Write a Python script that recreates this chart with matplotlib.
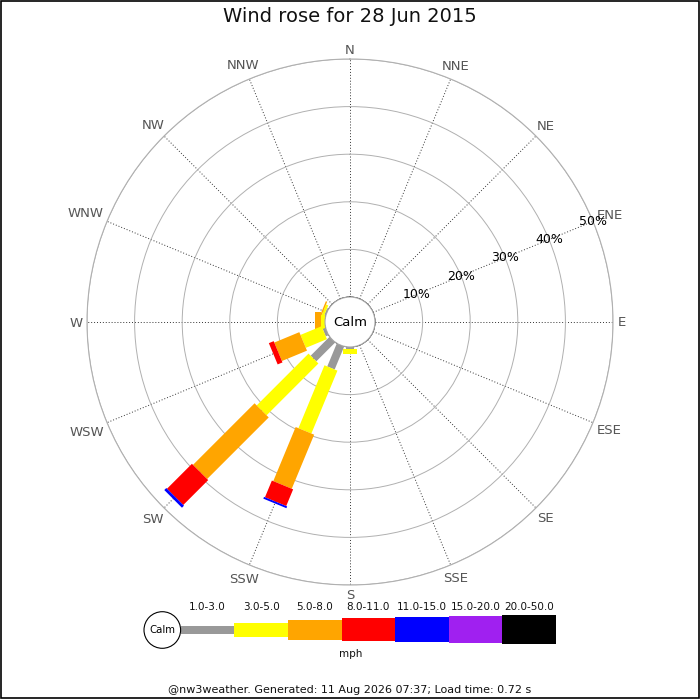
import numpy as np
import matplotlib
matplotlib.use("Agg")
import matplotlib.pyplot as plt
from matplotlib.patches import Circle, Rectangle

# wind rose data, % of day per direction and speed class
directions = ["N", "NNE", "NE", "ENE", "E", "ESE", "SE", "SSE",
              "S", "SSW", "SW", "WSW", "W", "WNW", "NW", "NNW"]
speed_classes = ["1.0-3.0", "3.0-5.0", "5.0-8.0", "8.0-11.0",
                 "11.0-15.0", "15.0-20.0", "20.0-50.0"]
spd_1_3 = [0, 0, 0, 0, 0, 0, 0, 0, 0.5, 5.2, 5.6, 0.6, 0, 0.3, 0, 0]
spd_3_5 = [0, 0, 0, 0, 0, 0, 0, 0, 1.0, 14.3, 15.4, 4.8, 0.9, 0.5, 0, 0]
spd_5_8 = [0, 0, 0, 0, 0, 0, 0, 0, 0, 12.3, 18.3, 5.7, 1.2, 0.3, 0, 0]
spd_8_11 = [0, 0, 0, 0, 0, 0, 0, 0, 0, 3.8, 7.4, 1.1, 0, 0, 0, 0]
spd_11_15 = [0, 0, 0, 0, 0, 0, 0, 0, 0, 0.4, 0.6, 0, 0, 0, 0, 0]
spd_15_20 = [0] * 16
spd_20_50 = [0] * 16
ring_pcts = [10, 20, 30, 40, 50]

colors = ["#999999", "#ffff00", "#ffa500", "#ff0000",
          "#0000ff", "#a020f0", "#000000"]
bar_px = [8, 14, 20, 23, 25, 27, 29]   # bar thickness in pixels

series = [spd_1_3, spd_3_5, spd_5_8, spd_8_11, spd_11_15, spd_15_20, spd_20_50]

DPI = 100
fig = plt.figure(figsize=(7, 7), dpi=DPI)
renderer = fig.canvas.get_renderer()

# overlay axes in pixel units for legend, title, footer, compass labels
ov = fig.add_axes([0, 0, 1, 1])
ov.set_xlim(0, 700)
ov.set_ylim(700, 0)
ov.axis("off")

# polar rose: centre (350, 322) px, calm radius 25 px, 50% ring at 263 px
cx, cy, r_out, r_calm = 350, 322, 263, 25
px_per_pct = (r_out - r_calm) / 50.0
side = 2 * r_out
ax = fig.add_axes([(cx - r_out) / 700, (700 - cy - r_out) / 700,
                   side / 700, side / 700], projection="polar")
ax.set_theta_zero_location("N")
ax.set_theta_direction(-1)
ax.set_rorigin(-r_calm / px_per_pct)
ax.set_rlim(0, 50)
ax.set_axisbelow(True)

angles = np.arange(16) * 22.5
theta = np.deg2rad(angles)
ax.set_thetagrids(angles, labels=[""] * 16)
ax.set_rticks(ring_pcts)
ax.set_yticklabels([])
ax.xaxis.grid(True, color="#333333", linestyle=(0, (1, 2)), linewidth=0.7)
ax.yaxis.grid(True, color="#b0b0b0", linestyle="-", linewidth=0.7)
ax.spines["polar"].set_color("#b0b0b0")
ax.spines["polar"].set_linewidth(0.8)
for sp in ("inner", "start", "end"):
    if sp in ax.spines:
        ax.spines[sp].set_visible(False)

# compass labels just outside the outer ring, pushed out by their own size
lab_fs = 9.5
cap_h = 0.73 * lab_fs * DPI / 72
for a, name in zip(theta, directions):
    s, c = np.sin(a), np.cos(a)
    t = ov.text(0, 0, name, ha="center", va="center", fontsize=lab_fs,
                color="#555555")
    w = t.get_window_extent(renderer).width
    r = r_out + 4.5 + abs(s) * w / 2 + abs(c) * cap_h / 2
    t.set_position((cx + r * s, cy - r * c + 1))

# stacked bars as thick butt-capped radial lines (constant pixel width)
for i in reversed(range(16)):
    cum = 0.0
    for k, vals in enumerate(series):
        v = vals[i]
        if v > 0:
            ax.plot([theta[i], theta[i]], [cum, cum + v], color=colors[k],
                    linewidth=bar_px[k] * 72 / DPI, solid_capstyle="butt",
                    zorder=3)
        cum += v

for p in ring_pcts:
    ax.text(np.deg2rad(67.5), p, f"{p}%", ha="center", va="center",
            fontsize=9, color="black", zorder=4)

ax.add_patch(Circle((0.5, 0.5), r_calm / side, transform=ax.transAxes,
                    facecolor="white", edgecolor="#aaaaaa", linewidth=0.8,
                    clip_on=False, zorder=5))
ax.text(0.5, 0.5, "Calm", transform=ax.transAxes, ha="center", va="center",
        fontsize=9.5, zorder=6)

# title and footer
ov.text(350, 17, "Wind rose for 28 Jun 2015", ha="center", va="center",
        fontsize=14, color="#111111")
ov.text(350, 690, "@nw3weather. Generated: 11 Aug 2026 07:37; Load time: 0.72 s",
        ha="center", va="center", fontsize=8, color="#111111")

# legend
leg_x0, leg_w, leg_cy = 180.7, 53.6, 629.5
for k, lab in enumerate(speed_classes):
    x = leg_x0 + k * leg_w
    ov.bar(x, bar_px[k], width=leg_w, bottom=leg_cy - bar_px[k] / 2,
           align="edge", color=colors[k], linewidth=0)
    ov.text(x + leg_w / 2, 606.5, lab, ha="center", va="center",
            fontsize=7.5, color="#111111")
ov.add_patch(Circle((162.3, 630), 18.3, facecolor="white",
                    edgecolor="black", linewidth=0.8, zorder=3))
ov.text(162.3, 630, "Calm", ha="center", va="center", fontsize=7.3, zorder=4)
ov.text(350.7, 654, "mph", ha="center", va="center", fontsize=7.5,
        color="#111111")

# image frame
ov.add_patch(Rectangle((0.5, 0.5), 698.5, 697.5, fill=False,
                       edgecolor="black", linewidth=1.2, clip_on=False))

fig.savefig("out.png", dpi=DPI)
